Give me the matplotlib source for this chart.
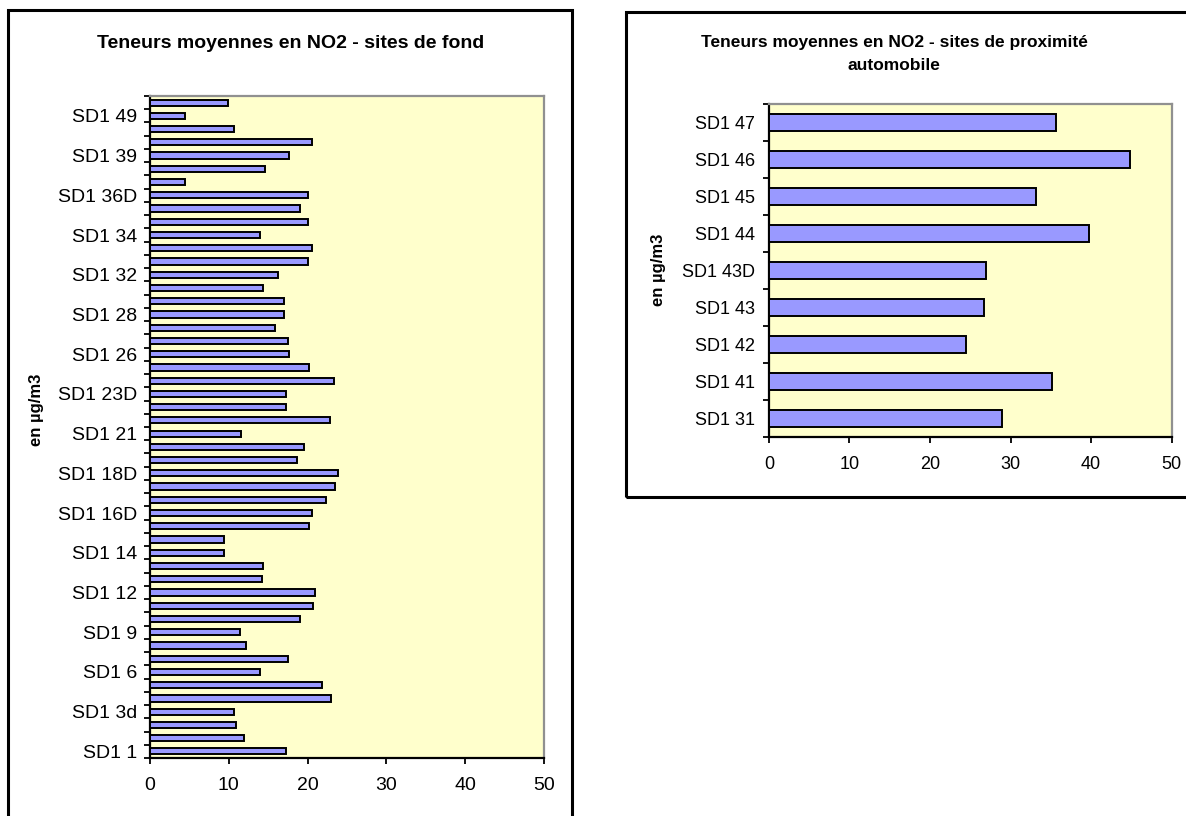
import numpy as np
import matplotlib
matplotlib.use("Agg")
import matplotlib.pyplot as plt
from matplotlib.patches import Rectangle

plt.rcParams['font.family'] = ['Liberation Sans', 'DejaVu Sans']

# Background sites (bottom to top), mean NO2 in µg/m3
fond_values = [17.2, 11.9, 10.9, 10.6, 23.0, 21.8, 13.9, 17.5, 12.2, 11.4,
               19.0, 20.7, 21.0, 14.2, 14.4, 9.4, 9.4, 20.2, 20.5, 22.3,
               23.5, 23.8, 18.7, 19.5, 11.6, 22.8, 17.2, 17.2, 23.3, 20.2,
               17.7, 17.5, 15.9, 17.0, 17.0, 14.4, 16.2, 20.0, 20.5, 13.9,
               20.0, 19.0, 20.0, 4.5, 14.6, 17.7, 20.5, 10.6, 4.5, 9.9]
# Labels shown on every third site
fond_labels = ["SD1 1", "SD1 3d", "SD1 6", "SD1 9", "SD1 12", "SD1 14",
               "SD1 16D", "SD1 18D", "SD1 21", "SD1 23D", "SD1 26", "SD1 28",
               "SD1 32", "SD1 34", "SD1 36D", "SD1 39", "SD1 49"]
label_step = 3

# Traffic sites (bottom to top)
prox_labels = ["SD1 31", "SD1 41", "SD1 42", "SD1 43", "SD1 43D",
               "SD1 44", "SD1 45", "SD1 46", "SD1 47"]
prox_values = [29.0, 35.2, 24.5, 26.7, 27.0, 39.8, 33.2, 44.85, 35.7]

x_ticks = [0, 10, 20, 30, 40, 50]

BAR = "#9999FF"
BG = "#FFFFCC"

W, H = 1186, 816
fig = plt.figure(figsize=(W / 100, H / 100), dpi=100)


def fx(px):
    return px / W


def fy(py):
    return 1 - py / H


# Chart frames
fig.patches.append(Rectangle((fx(8), fy(822)), fx(572 - 8), (822 - 10) / H,
                             transform=fig.transFigure, fill=False,
                             edgecolor="black", linewidth=2.2))
fig.patches.append(Rectangle((fx(626), fy(497)), fx(1195 - 626), (497 - 12) / H,
                             transform=fig.transFigure, fill=False,
                             edgecolor="black", linewidth=2.2))


def style_axes(ax, n, tick_fs, pad):
    ax.set_facecolor(BG)
    ax.set_xlim(0, 50)
    ax.set_ylim(-0.5, n - 0.5)
    ax.set_xticks(x_ticks)
    ax.set_xticklabels([str(t) for t in x_ticks], fontsize=tick_fs)
    ax.tick_params(axis='x', direction='out', length=4, width=1.3, pad=10)
    ax.set_yticks(np.arange(-0.5, n, 1.0))
    ax.set_yticklabels([])
    ax.tick_params(axis='y', which='major', direction='out', length=4, width=1.3)
    ax.tick_params(axis='y', which='minor', length=0, pad=pad, labelsize=tick_fs)
    for s in ('left', 'bottom'):
        ax.spines[s].set_color('black')
        ax.spines[s].set_linewidth(1.6)
    for s in ('top', 'right'):
        ax.spines[s].set_color('#909090')
        ax.spines[s].set_linewidth(1.6)


# Left chart: background sites
ax1 = fig.add_axes([fx(150), fy(758), fx(544 - 150), (758 - 96) / H])
n1 = len(fond_values)
ax1.barh(np.arange(n1), fond_values, height=0.47, color=BAR,
         edgecolor='black', linewidth=1.4, zorder=3)
style_axes(ax1, n1, 14, 9)
ax1.set_yticks(np.arange(0, n1, label_step)[:len(fond_labels)], minor=True)
ax1.set_yticklabels(fond_labels, minor=True)
fig.text(fx(291), fy(44), "Teneurs moyennes en NO2 - sites de fond",
         ha='center', va='center', fontsize=14, fontweight='bold')
fig.text(fx(36), fy(410), "en µg/m3", rotation=90, ha='center', va='center',
         fontsize=12, fontweight='bold')

# Right chart: traffic sites
ax2 = fig.add_axes([fx(769), fy(437), fx(1171.5 - 769), (437 - 104) / H])
n2 = len(prox_values)
ax2.barh(np.arange(n2), prox_values, height=0.45, color=BAR,
         edgecolor='black', linewidth=1.4, zorder=3)
style_axes(ax2, n2, 13, 10)
ax2.set_yticks(np.arange(n2), minor=True)
ax2.set_yticklabels(prox_labels, minor=True)
fig.text(fx(894), fy(42), "Teneurs moyennes en NO2 - sites de proximité",
         ha='center', va='center', fontsize=12.5, fontweight='bold')
fig.text(fx(894), fy(65), "automobile",
         ha='center', va='center', fontsize=12.5, fontweight='bold')
fig.text(fx(658), fy(270), "en µg/m3", rotation=90, ha='center', va='center',
         fontsize=12, fontweight='bold')

fig.savefig("out.png", dpi=100)
